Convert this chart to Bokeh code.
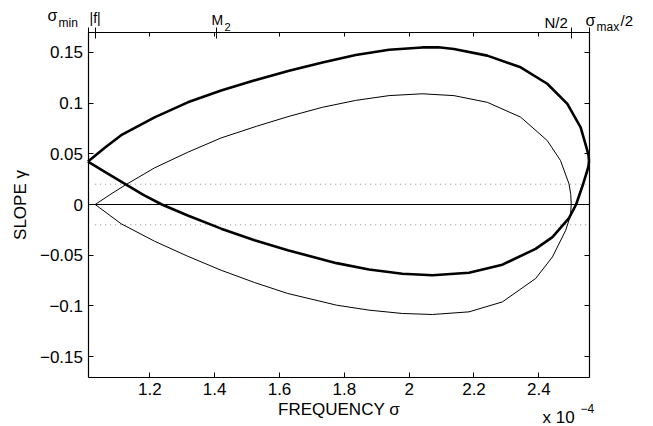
from bokeh.plotting import figure
from bokeh.models import Range1d, LinearAxis, FixedTicker, Label
from bokeh.embed import file_html
from bokeh.resources import INLINE

# ---- data (frequency in units of 1e-4 s^-1) ----
sigma_min = 1.0092
f_abs = 1.0313
m2_freq = 1.4052
n_half = 2.5
sigma_max_half = 2.5548
y_lim = 0.17

x_ticks = [1.2, 1.4, 1.6, 1.8, 2.0, 2.2, 2.4]
x_tick_labels = ["1.2", "1.4", "1.6", "1.8", "2", "2.2", "2.4"]
y_ticks = [-0.15, -0.1, -0.05, 0.0, 0.05, 0.1, 0.15]
y_tick_labels = ["\u22120.15", "\u22120.1", "\u22120.05", "0", "0.05", "0.1", "0.15"]
top_ticks = [sigma_min, f_abs, m2_freq, n_half, sigma_max_half]

# thick curve (non-traditional), upper branch
thick_up_x = [1.0092, 1.06, 1.1115, 1.2145, 1.317, 1.420, 1.530, 1.6295, 1.7325,
              1.835, 1.938, 2.04, 2.09, 2.138, 2.241, 2.344, 2.426, 2.488, 2.529,
              2.5497, 2.5535, 2.5548]
thick_up_y = [0.0423, 0.0557, 0.0683, 0.0859, 0.1007, 0.1124, 0.1230, 0.1319, 0.1400,
              0.1473, 0.1525, 0.1548, 0.1550, 0.1532, 0.1467, 0.1352, 0.1190, 0.0991,
              0.0761, 0.0530, 0.0480, 0.0430]
# thick curve, lower branch
thick_lo_x = [1.0092, 1.06, 1.127, 1.18, 1.237, 1.317, 1.420, 1.523, 1.6255, 1.776,
              1.876, 1.979, 2.072, 2.1846, 2.2876, 2.390, 2.442, 2.493, 2.515, 2.5365,
              2.550, 2.5535, 2.5548]
thick_lo_y = [0.0423, 0.0325, 0.0197, 0.0095, 0.0, -0.0108, -0.0238, -0.0353, -0.0451,
              -0.0578, -0.0640, -0.0683, -0.0697, -0.0673, -0.0593, -0.0437, -0.0322,
              -0.0135, 0.0, 0.0200, 0.0340, 0.0385, 0.0430]
# thin curve (traditional), upper branch
thin_up_x = [1.0313, 1.08, 1.127, 1.2145, 1.317, 1.420, 1.530, 1.6295, 1.7325, 1.835,
             1.938, 2.04, 2.138, 2.241, 2.344, 2.426, 2.467, 2.493, 2.4985, 2.500]
thin_up_y = [0.0, 0.0103, 0.0197, 0.0361, 0.0515, 0.0656, 0.0772, 0.0869, 0.0958,
             0.1026, 0.1073, 0.1091, 0.1073, 0.1007, 0.0861, 0.0630, 0.0433, 0.0204,
             0.0100, 0.0]
# thin curve, lower branch
thin_lo_x = [1.0313, 1.1115, 1.2145, 1.317, 1.420, 1.523, 1.6255, 1.776, 1.876, 1.979,
             2.072, 2.1846, 2.2876, 2.390, 2.442, 2.483, 2.4975, 2.500]
thin_lo_y = [0.0, -0.0190, -0.0362, -0.0510, -0.0648, -0.0769, -0.0877, -0.0992,
             -0.1041, -0.1074, -0.1084, -0.1058, -0.0960, -0.0730, -0.0517, -0.0254,
             -0.0110, 0.0]

ref_levels = [0.02, -0.02]

# ---- layout: the frame fills the canvas; the axes sit at fixed data locations ----
FONT = "Liberation Sans"
W, H = 653, 426
BOX_L, BOX_R, BOX_T, BOX_B = 87.5, 588.5, 31.5, 376.5
kx = (BOX_R - BOX_L) / (sigma_max_half - sigma_min)
ky = (BOX_B - BOX_T) / (2 * y_lim)
x0 = sigma_min - BOX_L / kx
x1 = x0 + W / kx
y1 = y_lim + BOX_T / ky
y0 = y1 - H / ky

def X(px):
    return x0 + px / kx

def Y(py):
    return y1 - py / ky

p = figure(width=W, height=H, x_range=Range1d(x0, x1), y_range=Range1d(y0, y1),
           x_axis_location=None, y_axis_location=None, min_border=0,
           output_backend="svg", toolbar_location=None)
p.outline_line_color = None
p.background_fill_color = "white"
p.border_fill_color = "white"
for g in p.grid:
    g.visible = False

def make_axis(loc, bounds, ticker, labels=True):
    ax = LinearAxis(fixed_location=loc, bounds=bounds, ticker=ticker)
    ax.axis_line_color = "black"
    ax.axis_line_width = 1.2
    ax.major_tick_line_color = "black"
    ax.minor_tick_line_color = None
    ax.major_tick_in = 5
    ax.major_tick_out = 0
    ax.major_label_text_font = FONT
    ax.major_label_text_font_size = "17px"
    ax.major_label_text_color = "black" if labels else None
    ax.axis_label_text_font = FONT
    ax.axis_label_text_font_size = "17px"
    ax.axis_label_text_font_style = "normal"
    ax.axis_label_text_color = "black"
    return ax

xb = (sigma_min, sigma_max_half)
yb = (-y_lim, y_lim)

bottom = make_axis(-y_lim, xb, FixedTicker(ticks=x_ticks))
bottom.major_label_overrides = dict(zip(x_ticks, x_tick_labels))
bottom.major_label_standoff = 6
bottom.axis_label = "FREQUENCY \u03c3"
bottom.axis_label_standoff = 1
p.add_layout(bottom, "below")

left = make_axis(sigma_min, yb, FixedTicker(ticks=y_ticks))
left.major_label_overrides = dict(zip(y_ticks, y_tick_labels))
left.major_label_standoff = 5
left.axis_label = "SLOPE \u03b3"
left.axis_label_standoff = 7
p.add_layout(left, "left")

right = make_axis(sigma_max_half, yb, FixedTicker(ticks=y_ticks), labels=False)
p.add_layout(right, "right")

top = make_axis(y_lim, xb, FixedTicker(ticks=top_ticks, minor_ticks=x_ticks), labels=False)
top.major_tick_in = 6
top.major_tick_out = 5
top.minor_tick_line_color = "black"
top.minor_tick_in = 4
top.minor_tick_out = 0
p.add_layout(top, "above")

# reference lines
for lv in ref_levels:
    p.line([f_abs, sigma_max_half], [lv, lv], line_color="#8c8c8c", line_width=1,
           line_dash="1 4")
p.line([sigma_min, sigma_max_half], [0, 0], line_color="black", line_width=1)

# curves
p.line(thin_up_x, thin_up_y, line_color="black", line_width=1)
p.line(thin_lo_x, thin_lo_y, line_color="black", line_width=1)
p.line(thick_up_x, thick_up_y, line_color="black", line_width=2.6, line_join="round")
p.line(thick_lo_x, thick_lo_y, line_color="black", line_width=2.6, line_join="round")

def add_text(px, py_base, text, size):
    p.add_layout(Label(x=X(px), y=Y(py_base), text=text, text_font=FONT,
                       text_font_size=size, text_color="black", text_align="left",
                       text_baseline="alphabetic"))

# top annotations
add_text(47, 15, "\u03c3", "16px")
add_text(58, 22.5, "min", "12px")
add_text(89, 17.5, "|f|", "14px")
add_text(211, 19, "M", "14px")
add_text(224, 26, "2", "11px")
add_text(544, 22, "N/2", "15px")
add_text(585, 20, "\u03c3", "16px")
add_text(596, 26.5, "max", "12px")
add_text(620, 20, "/2", "15px")

# exponent below the x axis
add_text(542, 417, "x 10", "17px")
add_text(580, 408, "\u22124", "12px")

open("out.html", "w").write(file_html(p, INLINE))
